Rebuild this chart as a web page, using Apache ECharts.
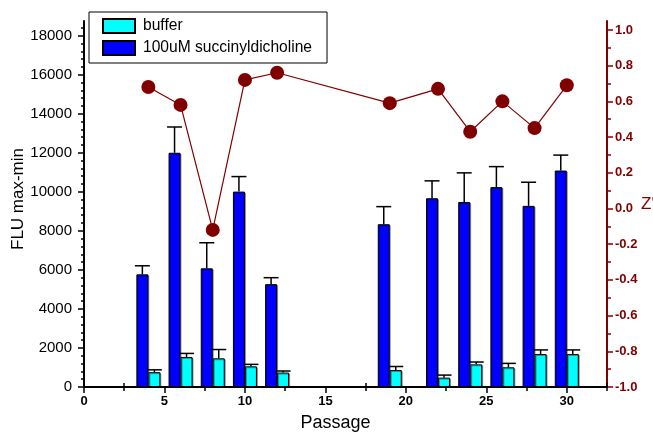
<!DOCTYPE html>
<html>
<head>
<meta charset="utf-8">
<script src="https://cdn.jsdelivr.net/npm/echarts@6/dist/echarts.min.js"></script>
<style>
html,body{margin:0;padding:0;background:#fff;}
#chart{width:653px;height:436px;}
</style>
</head>
<body>
<div id="chart"></div>
<script>
// ---- data ----
var passages = [4, 6, 8, 10, 12, 19, 22, 24, 26, 28, 30];
var succValues = [5770, 12000, 6080, 10010, 5270, 8340, 9670, 9480, 10240, 9280, 11090];
var succErrors = [440, 1320, 1310, 770, 330, 900, 890, 1490, 1050, 1210, 790];
var bufferValues = [760, 1540, 1470, 1060, 740, 870, 480, 1160, 1010, 1690, 1690];
var bufferErrors = [120, 180, 450, 100, 80, 180, 130, 120, 200, 210, 210];
var zPrime = [0.68, 0.58, -0.12, 0.72, 0.76, 0.59, 0.67, 0.43, 0.60, 0.45, 0.69];

var xMajorTicks = [0, 5, 10, 15, 20, 25, 30];
var xMinorTicks = [2.5, 7.5, 12.5, 17.5, 22.5, 27.5, 32.5];
var leftMajorTicks = [0, 2000, 4000, 6000, 8000, 10000, 12000, 14000, 16000, 18000];
var leftMinorTicks = [400, 800, 1200, 1600, 2400, 2800, 3200, 3600, 4400, 4800, 5200, 5600,
  6400, 6800, 7200, 7600, 8400, 8800, 9200, 9600, 10400, 10800, 11200, 11600,
  12400, 12800, 13200, 13600, 14400, 14800, 15200, 15600, 16400, 16800, 17200, 17600, 18400];
var rightMajorTicks = [-1.0, -0.8, -0.6, -0.4, -0.2, 0.0, 0.2, 0.4, 0.6, 0.8, 1.0];
var rightMinorTicks = [-0.9, -0.7, -0.5, -0.3, -0.1, 0.1, 0.3, 0.5, 0.7, 0.9];

// ---- build ----
var FONT = 'Liberation Sans, Arial, sans-serif';
var DARKRED = '#800000';
var BAR_W = 12;

function pairs(xs, ys) { return xs.map(function (x, i) { return [x, ys[i]]; }); }
function triples(xs, ys, es) { return xs.map(function (x, i) { return [x, ys[i], es[i]]; }); }

function errorRenderer(offset) {
  return function (params, api) {
    var x = api.value(0), y = api.value(1), e = api.value(2);
    var base = api.coord([x, y]);
    var top = api.coord([x, y + e]);
    var cx = base[0] + offset;
    return {
      type: 'group',
      children: [
        { type: 'line', shape: { x1: cx, y1: base[1], x2: cx, y2: top[1] }, style: { stroke: '#000', lineWidth: 1.5 } },
        { type: 'line', shape: { x1: cx - 7.5, y1: top[1], x2: cx + 7.5, y2: top[1] }, style: { stroke: '#000', lineWidth: 1.5 } }
      ]
    };
  };
}

var option = {
  animation: false,
  backgroundColor: '#fff',
  textStyle: { fontFamily: FONT },
  grid: { left: 84, right: 46, top: 21, bottom: 49, containLabel: false, outerBoundsMode: 'none' },
  legend: {
    orient: 'vertical',
    left: 89, top: 12,
    data: ['buffer', '100uM succinyldicholine'],
    icon: 'rect',
    itemWidth: 32, itemHeight: 14,
    itemGap: 6,
    padding: [6, 15, 7, 13],
    borderColor: '#000', borderWidth: 1,
    backgroundColor: '#fff',
    textStyle: { fontSize: 15.6, color: '#000', fontFamily: FONT, padding: [0, 0, 0, 3] }
  },
  xAxis: [
    {
      type: 'value', min: 0, max: 32.5, position: 'bottom',
      splitLine: { show: false },
      axisLine: { show: true, onZero: false, lineStyle: { color: '#000', width: 2 } },
      axisTick: { show: true, customValues: xMajorTicks, length: 6, lineStyle: { color: '#000', width: 1.5 } },
      axisLabel: { customValues: xMajorTicks, margin: 8, fontSize: 13, fontWeight: 'bold', color: '#000', fontFamily: FONT,
        formatter: function (v) { return String(v); } },
      name: 'Passage', nameLocation: 'middle', nameGap: 27, nameMoveOverlap: false,
      nameTextStyle: { fontSize: 18, color: '#000', fontFamily: FONT, padding: [0, 20, 0, 0] }
    },
    {
      type: 'value', min: 0, max: 32.5, position: 'bottom',
      splitLine: { show: false },
      axisLine: { show: false, onZero: false },
      axisTick: { show: true, customValues: xMinorTicks, inside: true, length: 4, lineStyle: { color: '#000', width: 1.5 } },
      axisLabel: { show: false }
    },
    {
      type: 'value', min: 0, max: 32.5, position: 'bottom',
      splitLine: { show: false },
      axisLine: { show: false, onZero: false },
      axisTick: { show: true, customValues: xMinorTicks, inside: false, length: 4, lineStyle: { color: '#000', width: 1.5 } },
      axisLabel: { show: false }
    }
  ],
  yAxis: [
    {
      type: 'value', min: 0, max: 18750, position: 'left',
      splitLine: { show: false },
      axisLine: { show: true, onZero: false, lineStyle: { color: '#000', width: 2 } },
      axisTick: { show: true, customValues: leftMajorTicks, length: 6, lineStyle: { color: '#000', width: 1.5 } },
      axisLabel: { customValues: leftMajorTicks, margin: 12, fontSize: 15, color: '#000', fontFamily: FONT,
        formatter: function (v) { return String(v); } },
      name: 'FLU max-min', nameLocation: 'middle', nameGap: 57, nameRotate: 90, nameMoveOverlap: false,
      nameTextStyle: { fontSize: 17, color: '#000', fontFamily: FONT, padding: [0, 0, 0, 10] }
    },
    {
      type: 'value', min: 0, max: 18750, position: 'left',
      splitLine: { show: false },
      axisLine: { show: false, onZero: false },
      axisTick: { show: true, customValues: leftMinorTicks, length: 3, lineStyle: { color: '#000', width: 1.5 } },
      axisLabel: { show: false }
    },
    {
      type: 'value', min: -1, max: 1.05, position: 'right',
      splitLine: { show: false },
      axisLine: { show: true, onZero: false, lineStyle: { color: DARKRED, width: 2 } },
      axisTick: { show: true, customValues: rightMajorTicks, length: 6, lineStyle: { color: DARKRED, width: 1.5 } },
      axisLabel: {
        customValues: rightMajorTicks, margin: 8, fontSize: 13, fontWeight: 'bold', color: DARKRED, fontFamily: FONT,
        formatter: function (v) { return (Math.abs(v) < 1e-9 ? 0 : v).toFixed(1); }
      },
      name: "Z'", nameLocation: 'middle', nameGap: 34, nameRotate: 0, nameMoveOverlap: false,
      nameTextStyle: { fontSize: 17, color: DARKRED, fontFamily: FONT, align: 'left', padding: [8, 0, 0, 0] }
    },
    {
      type: 'value', min: -1, max: 1.05, position: 'right',
      splitLine: { show: false },
      axisLine: { show: false, onZero: false },
      axisTick: { show: true, customValues: rightMinorTicks, length: 4, lineStyle: { color: DARKRED, width: 1.5 } },
      axisLabel: { show: false }
    }
  ],
  series: [
    {
      name: '100uM succinyldicholine', type: 'bar', xAxisIndex: 0, yAxisIndex: 0,
      data: pairs(passages, succValues),
      barWidth: BAR_W, barGap: '0%',
      itemStyle: { color: '#0000FF', borderColor: '#000', borderWidth: 1, shadowColor: 'rgba(0,0,0,0.35)', shadowOffsetX: 1, shadowOffsetY: 1, shadowBlur: 0 },
      z: 2
    },
    {
      name: 'buffer', type: 'bar', xAxisIndex: 0, yAxisIndex: 0,
      data: pairs(passages, bufferValues),
      barWidth: BAR_W, barGap: '0%',
      itemStyle: { color: '#00FFFF', borderColor: '#000', borderWidth: 1, shadowColor: 'rgba(0,0,0,0.35)', shadowOffsetX: 1, shadowOffsetY: 1, shadowBlur: 0 },
      z: 2
    },
    {
      name: 'succErr', type: 'custom', xAxisIndex: 0, yAxisIndex: 0,
      data: triples(passages, succValues, succErrors),
      encode: { x: 0, y: [1, 2] },
      renderItem: errorRenderer(-BAR_W / 2), z: 3, silent: true
    },
    {
      name: 'bufferErr', type: 'custom', xAxisIndex: 0, yAxisIndex: 0,
      data: triples(passages, bufferValues, bufferErrors),
      encode: { x: 0, y: [1, 2] },
      renderItem: errorRenderer(BAR_W / 2), z: 3, silent: true
    },
    {
      name: "Z'", type: 'line', xAxisIndex: 0, yAxisIndex: 2,
      data: pairs(passages, zPrime),
      symbol: 'circle', symbolSize: 14,
      lineStyle: { color: DARKRED, width: 1.2 },
      itemStyle: { color: DARKRED },
      z: 5
    }
  ]
};

var chart = echarts.init(document.getElementById('chart'), null, { renderer: 'canvas' });
chart.setOption(option);
</script>
</body>
</html>
